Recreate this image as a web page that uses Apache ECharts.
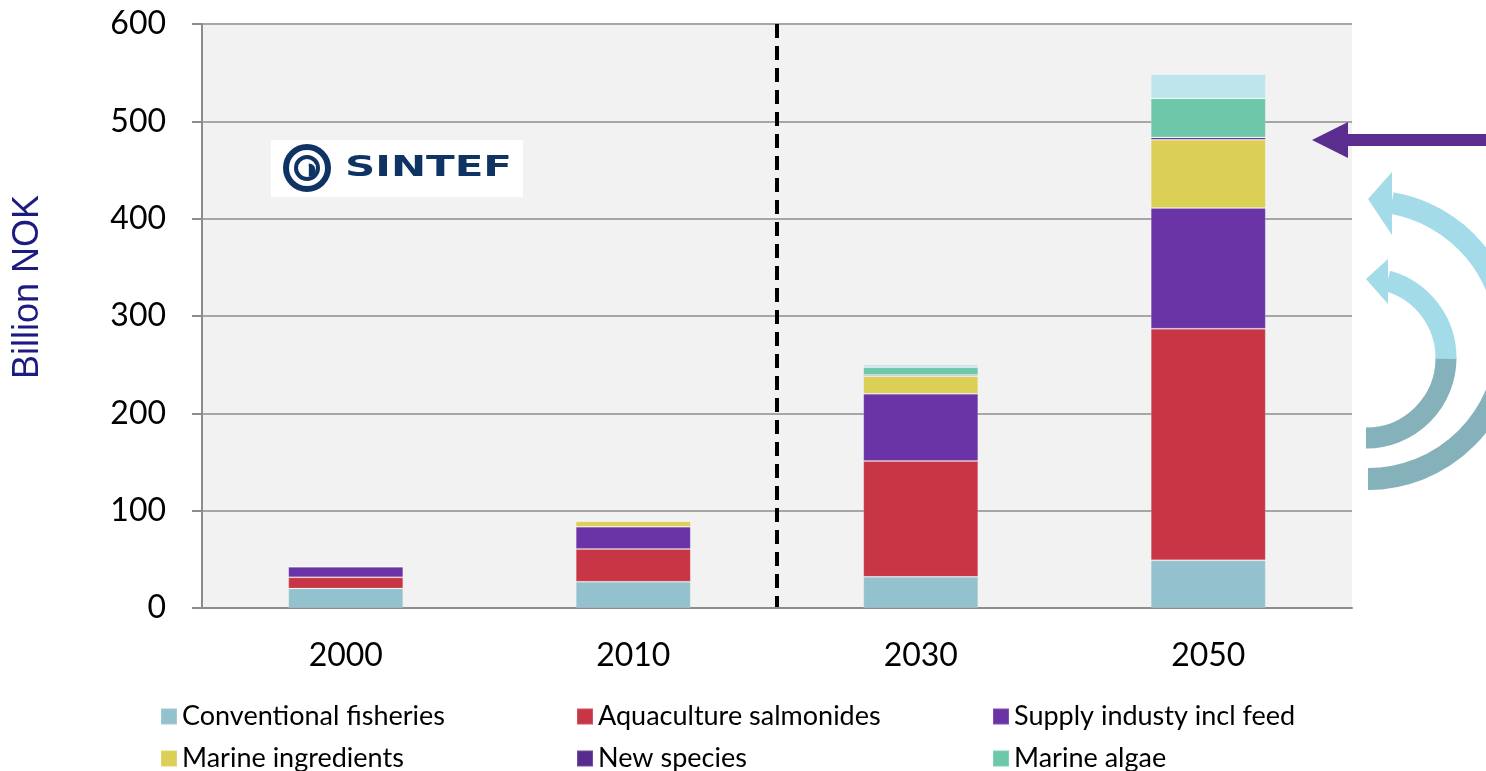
<!DOCTYPE html>
<html>
<head>
<meta charset="utf-8">
<script src="https://cdn.jsdelivr.net/npm/echarts@6/dist/echarts.min.js"></script>
<style>
  html, body { margin: 0; padding: 0; background: #fff; }
  #main { width: 1486px; height: 771px; }
</style>
</head>
<body>
<div id="main"></div>
<script>
var years = ['2000', '2010', '2030', '2050'];
var fisheries = [20, 27, 32, 49];
var salmonides = [11.5, 33.5, 119, 238];
var supply = [11, 23, 69, 124];
var ingredients = [0, 5.5, 18, 70];
var newSpecies = [0, 0.3, 1.3, 2.5];
var algae = [0, 1, 8, 40];
var other = [0, 0.4, 2.8, 25];

var colors = ['#93c2ce', '#c83646', '#6a33a6', '#dbcf55', '#582c8f', '#6cc8a9', '#bfe5ec'];

var myChart = echarts.init(document.getElementById('main'));

function bar(name, data, color) {
  return {
    name: name,
    type: 'bar',
    stack: 'total',
    data: data,
    barWidth: 115,
    itemStyle: {
      color: color,
      borderColor: 'rgba(255,255,255,0.15)',
      borderWidth: 1
    }
  };
}

var legendText = {
  fontFamily: 'Lato',
  fontSize: 27,
  color: '#000',
  lineHeight: 24
};

function legendCol(left, items) {
  return {
    orient: 'vertical',
    left: left,
    top: 703,
    height: 90,
    padding: 0,
    itemWidth: 16,
    itemHeight: 16,
    itemGap: 15,
    icon: 'rect',
    selectedMode: false,
    textStyle: legendText,
    data: items
  };
}

myChart.setOption({
  animation: false,
  grid: {
    left: 202,
    right: 134,
    top: 24,
    bottom: 163,
    show: true,
    backgroundColor: '#f2f2f2',
    borderWidth: 0
  },
  legend: [
    legendCol(160, ['Conventional fisheries', 'Marine ingredients']),
    legendCol(576, ['Aquaculture salmonides', 'New species']),
    legendCol(992, ['Supply industy incl feed', 'Marine algae'])
  ],
  xAxis: {
    type: 'category',
    data: years,
    axisLine: { lineStyle: { color: '#8c8c8c', width: 2 } },
    axisTick: { length: 12, lineStyle: { color: '#8c8c8c', width: 2 } },
    axisLabel: { fontFamily: 'Lato', fontSize: 32, color: '#000', margin: 32 }
  },
  yAxis: {
    type: 'value',
    min: 0,
    max: 600,
    interval: 100,
    axisLine: { show: true, lineStyle: { color: '#8c8c8c', width: 2 } },
    axisTick: { show: true, length: 10, lineStyle: { color: '#8c8c8c', width: 2 } },
    axisLabel: { fontFamily: 'Lato', fontSize: 32, color: '#000', margin: 36 },
    splitLine: { lineStyle: { color: '#a6a6a6', width: 2 } }
  },
  series: [
    bar('Conventional fisheries', fisheries, colors[0]),
    bar('Aquaculture salmonides', salmonides, colors[1]),
    bar('Supply industy incl feed', supply, colors[2]),
    bar('Marine ingredients', ingredients, colors[3]),
    bar('New species', newSpecies, colors[4]),
    bar('Marine algae', algae, colors[5]),
    bar('Other', other, colors[6])
  ]
});

// dashed divider half way between 2010 and 2030, placed via the axis scale
var x1 = myChart.convertToPixel({ xAxisIndex: 0 }, '2010');
var x2 = myChart.convertToPixel({ xAxisIndex: 0 }, '2030');
var xMid = (x1 + x2) / 2;
var yTop = myChart.convertToPixel({ yAxisIndex: 0 }, 600);
var yBottom = myChart.convertToPixel({ yAxisIndex: 0 }, 0);

myChart.setOption({
  graphic: [
    { type: 'line', shape: { x1: xMid, y1: yTop, x2: xMid, y2: yBottom }, style: { stroke: '#000', lineWidth: 4, lineDash: [14, 8] } },
    // y axis title
    { type: 'text', x: 28, y: 287, rotation: Math.PI / 2, style: { text: 'Billion NOK', font: '36px "Liberation Sans"', fill: '#1c1c80', align: 'center', verticalAlign: 'middle' } },
    // SINTEF logo
    { type: 'rect', shape: { x: 271, y: 140, width: 252, height: 57 }, style: { fill: '#fff' } },
    { type: 'circle', shape: { cx: 307, cy: 168, r: 21 }, style: { fill: 'none', stroke: '#0f3463', lineWidth: 6 } },
    { type: 'circle', shape: { cx: 307, cy: 168, r: 11 }, style: { fill: 'none', stroke: '#0f3463', lineWidth: 4 } },
    { type: 'arc', shape: { cx: 309, cy: 170, r: 5, startAngle: -1.6, endAngle: 1.6 }, style: { fill: '#0f3463', stroke: '#0f3463', lineWidth: 3 } },
    { type: 'text', x: 345, y: 169, scaleX: 1.5, style: { text: 'SINTEF', font: 'bold 28px "DejaVu Sans"', fill: '#0f3463', verticalAlign: 'middle' } },
    // purple arrow
    { type: 'polygon', shape: { points: [[1312, 140], [1348, 122], [1348, 134], [1486, 134], [1486, 146], [1348, 146], [1348, 158]] }, style: { fill: '#5b2d8e' } },
    // inner curved arrow
    { type: 'arc', shape: { cx: 1366, cy: 358, r: 80, startAngle: 0, endAngle: Math.PI / 2 }, style: { stroke: '#85b1bb', lineWidth: 21, fill: 'none' } },
    { type: 'arc', shape: { cx: 1366, cy: 358, r: 80, startAngle: -1.3, endAngle: 0.01 }, style: { stroke: '#a3dce8', lineWidth: 21, fill: 'none' } },
    { type: 'polygon', shape: { points: [[1366, 279], [1388, 259], [1388, 304]] }, style: { fill: '#a3dce8' } },
    // outer curved arrow
    { type: 'arc', shape: { cx: 1368, cy: 340, r: 139, startAngle: 0, endAngle: Math.PI / 2 }, style: { stroke: '#85b1bb', lineWidth: 22, fill: 'none' } },
    { type: 'arc', shape: { cx: 1368, cy: 340, r: 139, startAngle: -1.4, endAngle: 0.01 }, style: { stroke: '#a3dce8', lineWidth: 22, fill: 'none' } },
    { type: 'polygon', shape: { points: [[1368, 199], [1392, 172], [1392, 235]] }, style: { fill: '#a3dce8' } }
  ]
});
</script>
</body>
</html>
